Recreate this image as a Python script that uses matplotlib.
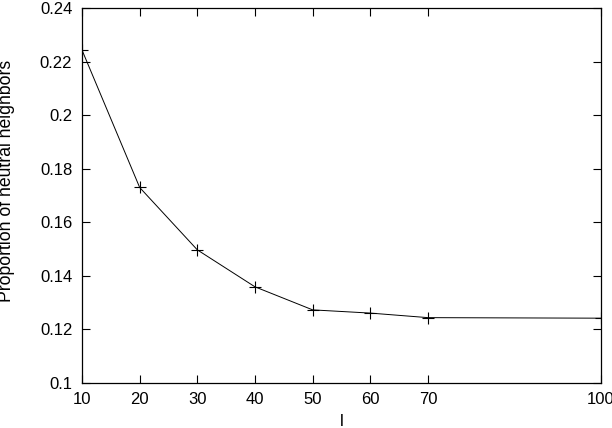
import matplotlib
matplotlib.use("Agg")
import matplotlib.pyplot as plt

l_values = [10, 20, 30, 40, 50, 60, 70, 100]
proportion = [0.2243, 0.1730, 0.1497, 0.1359, 0.1273, 0.1261, 0.1244, 0.1242]
xtick_vals = [10, 20, 30, 40, 50, 60, 70, 100]
ytick_vals = [0.1, 0.12, 0.14, 0.16, 0.18, 0.2, 0.22, 0.24]
ytick_labels = ['0.1', '0.12', '0.14', '0.16', '0.18', '0.2', '0.22', '0.24']

plt.rcParams['font.family'] = ['Liberation Sans', 'DejaVu Sans']
plt.rcParams['font.size'] = 12

W, H = 612, 428
fig = plt.figure(figsize=(W / 100, H / 100), dpi=100)
ax = fig.add_axes([82/W, 1 - 383/H, (601 - 82)/W, (383 - 8)/H])

ax.plot(l_values, proportion, color='black', linewidth=0.7, marker='+',
        markersize=8, markeredgewidth=0.8)

ax.set_xlim(10, 100)
ax.set_ylim(0.1, 0.24)
ax.set_xticks(xtick_vals)
ax.set_yticks(ytick_vals)
ax.set_yticklabels(ytick_labels)
ax.tick_params(direction='in', length=6, width=0.8, top=True, right=True)
ax.tick_params(axis='x', pad=6.5)
ax.tick_params(axis='y', pad=7)
for s in ax.spines.values():
    s.set_linewidth(0.9)

ax.set_xlabel('l')
ax.set_ylabel('Proportion of neutral neighbors', fontsize=12.7)
# label positions in axes coords
ax.xaxis.set_label_coords(0.5, -(421 - 383) / (383 - 8), transform=ax.transAxes)
ax.yaxis.set_label_coords(-(82 - 7) / (601 - 82), (383 - 181) / (383 - 8), transform=ax.transAxes)
ax.xaxis.label.set_va('center')
ax.yaxis.label.set_va('center')

fig.savefig('out.png', dpi=100)
